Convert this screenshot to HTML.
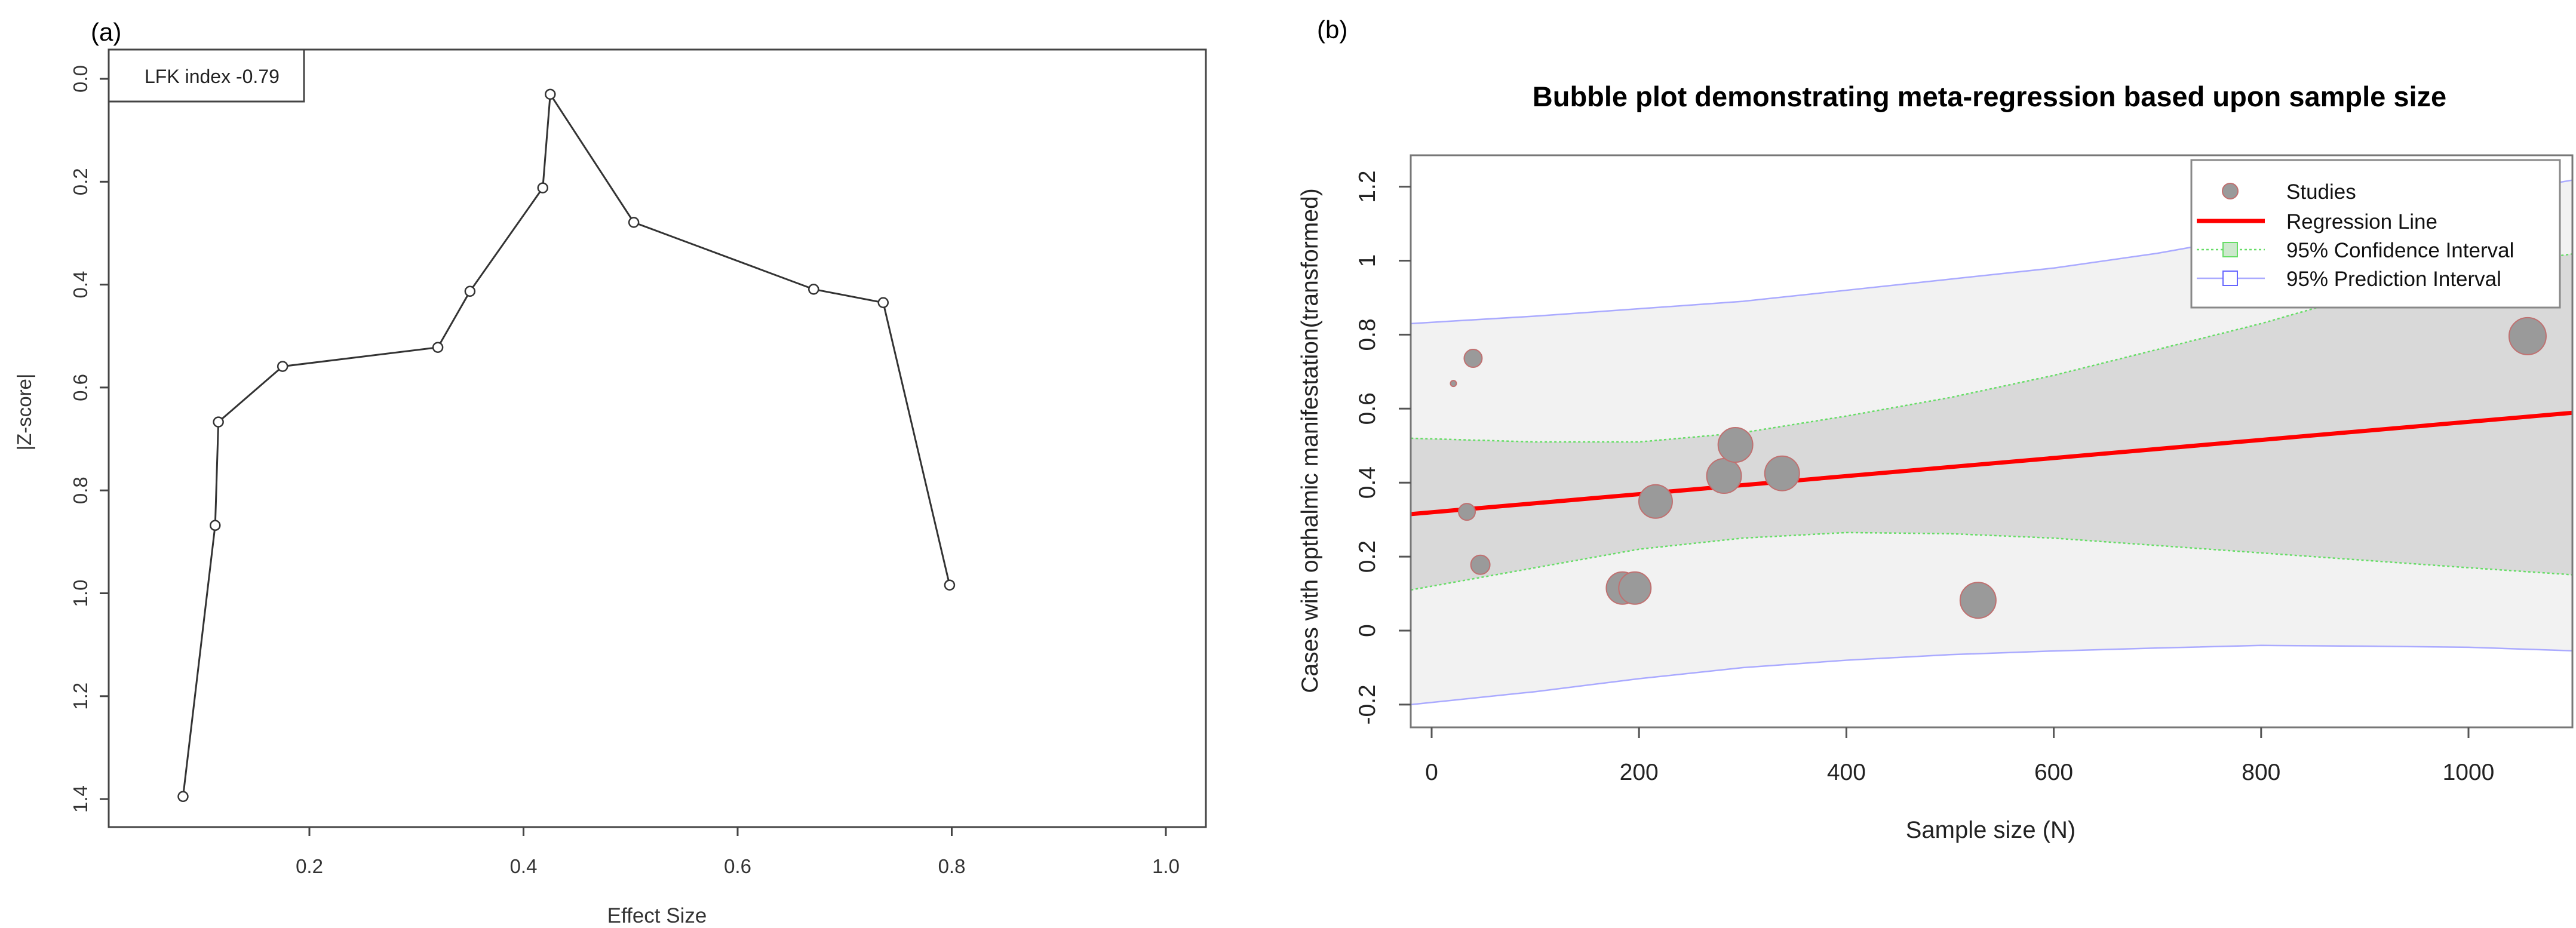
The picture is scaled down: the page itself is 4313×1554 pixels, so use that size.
<!DOCTYPE html>
<html><head><meta charset="utf-8"><style>
html,body{margin:0;padding:0;background:#fff;}
svg{display:block;font-family:"Liberation Sans",Arial,sans-serif;}
</style></head><body>
<svg id="fig" width="4313" height="1554" viewBox="0 0 4313 1554" xmlns="http://www.w3.org/2000/svg">
<g id="pa"></g>
<g id="pb"></g>
</svg>
<script>
// Panel A data
const effectSize = [0.082,0.112,0.115,0.175,0.320,0.350,0.418,0.425,0.503,0.671,0.736,0.798];
const zScore = [1.395,0.868,0.667,0.559,0.522,0.413,0.212,0.030,0.279,0.409,0.435,0.984];
const aXTicks = [0.2,0.4,0.6,0.8,1.0];
const aYTicks = [0.0,0.2,0.4,0.6,0.8,1.0,1.2,1.4];
const lfkLabel = "LFK index -0.79";
// Panel B data
const sampleN = [40,21,34,47,184,196,216,282,293,338,527,1057];
const caseVal = [0.736,0.668,0.321,0.178,0.115,0.115,0.349,0.418,0.502,0.425,0.082,0.796];
const bubbleW = [15,5,14,16,27,27,28,29,29,29,30,31];
const bandN = [-20,100,200,300,400,500,600,700,800,900,1000,1105];
const piUpper = [0.83,0.85,0.87,0.89,0.92,0.95,0.98,1.02,1.07,1.12,1.17,1.22];
const piLower = [-0.20,-0.165,-0.13,-0.10,-0.08,-0.065,-0.055,-0.047,-0.04,-0.042,-0.045,-0.055];
const ciUpper = [0.52,0.51,0.51,0.535,0.58,0.63,0.69,0.76,0.83,0.91,0.98,1.02];
const ciLower = [0.11,0.17,0.22,0.25,0.265,0.262,0.25,0.23,0.21,0.19,0.17,0.15];
const regStart = [-20,0.315];
const regEnd = [1105,0.59];
const bXTicks = [0,200,400,600,800,1000];
const bYTicks = [-0.2,0,0.2,0.4,0.6,0.8,1,1.2];

const NS="http://www.w3.org/2000/svg";
function mk(parent,tag,attrs,text){const e=document.createElementNS(NS,tag);for(const k in attrs)e.setAttribute(k,attrs[k]);if(text!==undefined)e.textContent=text;parent.appendChild(e);return e;}

// ---------- Panel A ----------
const pa=document.getElementById('pa');
const ax=v=>518+(v-0.2)*1792.5;
const ay=v=>132+v*861.5;
let t;
t=mk(pa,'text',{x:152,y:68,'font-size':42,fill:'#000'},'(a)');


t=mk(pa,'rect',{x:182,y:83,width:1837,height:1302,fill:'none',stroke:'#444','stroke-width':3});


aXTicks.forEach(v=>{
 t=mk(pa,'line',{x1:ax(v),x2:ax(v),y1:1385,y2:1400,stroke:'#444','stroke-width':3});
 
 
 t=mk(pa,'text',{x:ax(v),y:1462,'font-size':33,'text-anchor':'middle',fill:'#333'},v.toFixed(1));
 
 
});
aYTicks.forEach(v=>{
 t=mk(pa,'line',{x1:167,x2:182,y1:ay(v),y2:ay(v),stroke:'#444','stroke-width':3});
 
 
 t=mk(pa,'text',{x:0,y:0,'font-size':33,'text-anchor':'middle',fill:'#333',transform:`translate(146,${ay(v)}) rotate(-90)`},v.toFixed(1));
 
 
});
t=mk(pa,'text',{x:0,y:0,'font-size':33,'text-anchor':'middle',fill:'#333',transform:'translate(52,690) rotate(-90)'},'|Z-score|');


t=mk(pa,'text',{x:1100,y:1545,'font-size':35,'text-anchor':'middle',fill:'#333'},'Effect Size');


t=mk(pa,'rect',{x:182,y:83,width:327,height:87,fill:'#fff',stroke:'#444','stroke-width':3});


t=mk(pa,'text',{x:242,y:139,'font-size':32,fill:'#222'},lfkLabel);


t=mk(pa,'polyline',{points:effectSize.map((v,i)=>ax(v)+','+ay(zScore[i])).join(' '),fill:'none',stroke:'#333','stroke-width':3});


effectSize.forEach((v,i)=>{
 t=mk(pa,'circle',{cx:ax(v),cy:ay(zScore[i]),r:8,fill:'#fff',stroke:'#333','stroke-width':2.5});
 
 
});

// ---------- Panel B ----------
const pb=document.getElementById('pb');
const L=2362,R=4307,T=260,B=1218;
const bx=n=>2397+n*1.736;
const by=v=>1056-v*619.5;
t=mk(pb,'text',{x:2205,y:64,'font-size':42,fill:'#000'},'(b)');


t=mk(pb,'text',{x:3331,y:178,'font-size':47,'font-weight':'bold','text-anchor':'middle',fill:'#000'},'Bubble plot demonstrating meta-regression based upon sample size');


const cp=mk(pb,'clipPath',{id:'clipb'});
mk(cp,'rect',{x:L,y:T,width:R-L,height:B-T});
const gc=mk(pb,'g',{'clip-path':'url(#clipb)'});
function band(up,lo){return bandN.map((n,i)=>bx(n)+','+by(up[i])).concat(bandN.slice().reverse().map((n,j)=>{const i=bandN.length-1-j;return bx(n)+','+by(lo[i]);})).join(' ');}
t=mk(gc,'polygon',{points:band(piUpper,piLower),fill:'#f2f2f2'});


t=mk(gc,'polygon',{points:band(ciUpper,ciLower),fill:'#d9d9d9'});


[[piUpper,'#aaaaff','none'],[piLower,'#aaaaff','none'],[ciUpper,'#66dd66','4 4'],[ciLower,'#66dd66','4 4']].forEach(([arr,c,d])=>{
 t=mk(gc,'polyline',{points:bandN.map((n,i)=>bx(n)+','+by(arr[i])).join(' '),fill:'none',stroke:c,'stroke-width':2.5,'stroke-dasharray':d});
 
 
});
t=mk(gc,'line',{x1:bx(regStart[0]),y1:by(regStart[1]),x2:bx(regEnd[0]),y2:by(regEnd[1]),stroke:'#ff0000','stroke-width':7});


sampleN.forEach((n,i)=>{
 t=mk(gc,'circle',{cx:bx(n),cy:by(caseVal[i]),r:bubbleW[i],fill:'#9a9a9a',stroke:'#c07070','stroke-width':2});
 
 
});
t=mk(pb,'rect',{x:L,y:T,width:R-L,height:B-T,fill:'none',stroke:'#777','stroke-width':3});


bXTicks.forEach(v=>{
 t=mk(pb,'line',{x1:bx(v),x2:bx(v),y1:B,y2:B+18,stroke:'#555','stroke-width':3});
 
 
 t=mk(pb,'text',{x:bx(v),y:1306,'font-size':39,'text-anchor':'middle',fill:'#222'},String(v));
 
 
});
bYTicks.forEach(v=>{
 t=mk(pb,'line',{x1:L-20,x2:L,y1:by(v),y2:by(v),stroke:'#555','stroke-width':3});
 
 
 t=mk(pb,'text',{x:0,y:0,'font-size':39,'text-anchor':'middle',fill:'#222',transform:`translate(2302,${by(v)}) rotate(-90)`},String(v));
 
 
});
t=mk(pb,'text',{x:0,y:0,'font-size':39,'text-anchor':'middle',fill:'#222',transform:'translate(2206,738) rotate(-90)'},'Cases with opthalmic manifestation(transformed)');


t=mk(pb,'text',{x:3333,y:1403,'font-size':40,'text-anchor':'middle',fill:'#222'},'Sample size (N)');


// legend
const lg=mk(pb,'g',{});


t=mk(lg,'rect',{x:3669,y:268,width:617,height:247,fill:'#fff',stroke:'#888','stroke-width':3});


t=mk(lg,'circle',{cx:3734,cy:320,r:13,fill:'#9a9a9a',stroke:'#c07070','stroke-width':2});


t=mk(lg,'line',{x1:3678,x2:3792,y1:370,y2:370,stroke:'#ff0000','stroke-width':7});


t=mk(lg,'line',{x1:3678,x2:3792,y1:418,y2:418,stroke:'#66dd66','stroke-width':2.5,'stroke-dasharray':'4 4'});


t=mk(lg,'rect',{x:3722,y:406,width:24,height:24,fill:'#cde8cd',stroke:'#66dd66','stroke-width':2});


t=mk(lg,'line',{x1:3678,x2:3792,y1:466,y2:466,stroke:'#aaaaff','stroke-width':2.5});


t=mk(lg,'rect',{x:3722,y:454,width:24,height:24,fill:'#fff',stroke:'#6666ff','stroke-width':2});


[['Studies',333],['Regression Line',383],['95% Confidence Interval',431],['95% Prediction Interval',479]].forEach(([s,y])=>{
 t=mk(lg,'text',{x:3828,y:y,'font-size':35,fill:'#111'},s);
 
 
});
</script>
</body></html>
